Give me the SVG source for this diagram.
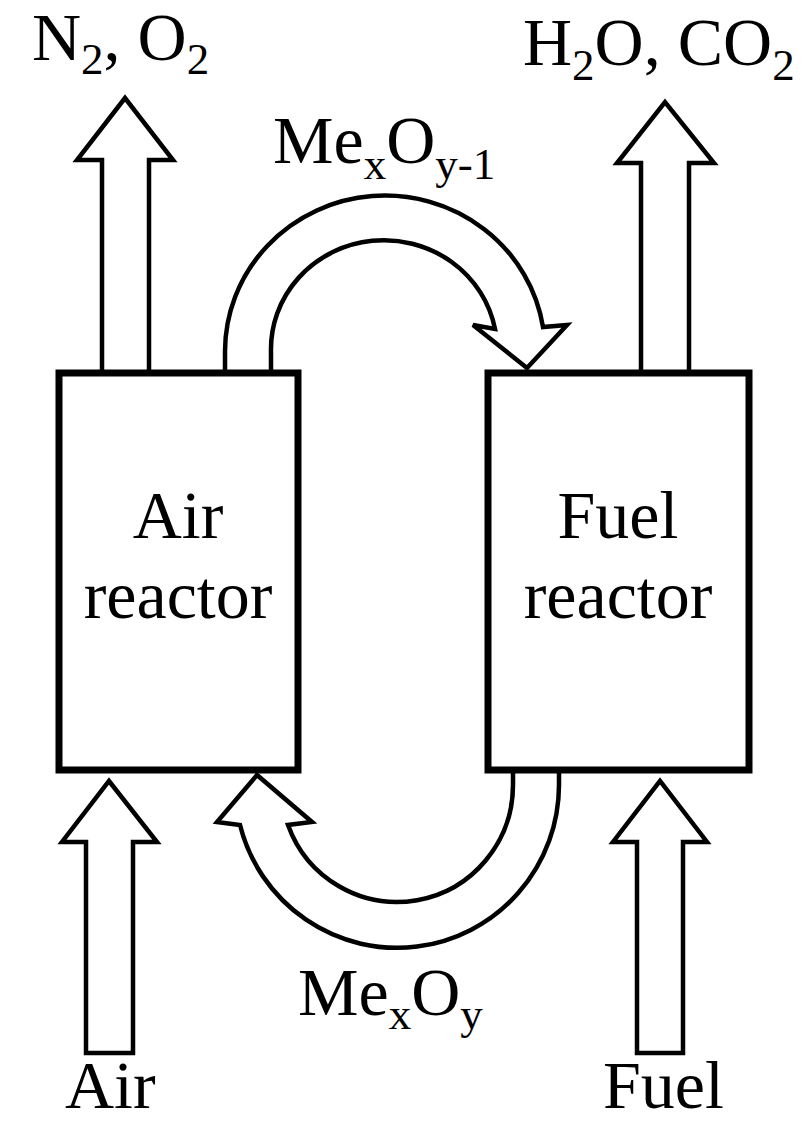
<svg xmlns="http://www.w3.org/2000/svg" width="810" height="1123" viewBox="0 0 810 1123">
<style>
.arr{fill:#fff;stroke:#000;stroke-width:4.5;stroke-linejoin:miter}
.box{fill:#fff;stroke:#000;stroke-width:7}
text{font-family:'Liberation Serif','Times New Roman',Tinos,'DejaVu Serif',serif;font-size:68px;fill:#000}
.s{font-size:45px}
</style>
<rect width="810" height="1123" fill="#fff"/>
<g id="connectors">
<path class="arr" d="M102 373 L102 160 L77 160 L125 98 L173 160 L149 160 L149 373 Z"/>
<path class="arr" d="M641 373 L641 163 L617 163 L665 102 L714 163 L689 163 L689 373 Z"/>
<path class="arr" d="M86 1053 L86 842 L62 842 L109 781 L157 842 L133 842 L133 1053 Z"/>
<path class="arr" d="M637 1053 L637 842 L613 842 L660 781 L707 842 L683 842 L683 1053 Z"/>
<path class="arr" d="M225 373 L225 352 A160 156 0 0 1 543 327 L567 325 L527 368 L473 325 L495 329 A113 109 0 0 0 271 352 L271 373 Z"/>
<path class="arr" d="M559 770 L559 785 A162 163 0 0 1 240 825 L217 822 L257 775 L312 822 L288 825 A116 117 0 0 0 513 785 L513 770 Z"/>
</g>
<g id="air-reactor">
<rect class="box" x="59" y="373" width="239" height="397"/>
<text x="178" y="538" text-anchor="middle">Air</text>
<text x="178" y="618" text-anchor="middle">reactor</text>
</g>
<g id="fuel-reactor">
<rect class="box" x="488" y="373" width="261" height="397"/>
<text x="618" y="538" text-anchor="middle">Fuel</text>
<text x="618" y="618" text-anchor="middle">reactor</text>
</g>
<g id="labels">
<text x="32" y="60">N<tspan class="s" dy="14">2</tspan><tspan dy="-14">, O</tspan><tspan class="s" dy="14">2</tspan></text>
<text x="523" y="65">H<tspan class="s" dy="15">2</tspan><tspan dy="-15">O, CO</tspan><tspan class="s" dy="15">2</tspan></text>
<text x="273" y="163">Me<tspan class="s" dy="16">x</tspan><tspan dy="-16">O</tspan><tspan class="s" dy="16">y-1</tspan></text>
<text x="298" y="1015">Me<tspan class="s" dy="14">x</tspan><tspan dy="-14">O</tspan><tspan class="s" dy="14">y</tspan></text>
<text x="65" y="1108">Air</text>
<text x="603" y="1108">Fuel</text>
</g>
</svg>
